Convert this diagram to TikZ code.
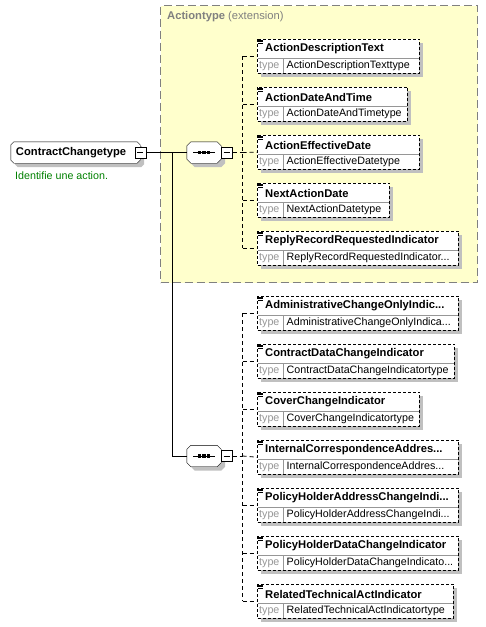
\documentclass[tikz,border=0pt]{standalone}
\usepackage{fontspec}
\setmainfont{Liberation Sans}
\usetikzlibrary{positioning}

\definecolor{extfill}{RGB}{255,255,204}
\definecolor{extdash}{RGB}{128,128,128}
\definecolor{shadegray}{RGB}{192,192,192}
\definecolor{rulegray}{RGB}{150,150,150}
\definecolor{docgreen}{RGB}{0,128,0}
\newcommand{\cutdots}{...}
% outline with cut corners round a named node
\newcommand{\chamferpath}[2]{([shift={(#2,0)}]#1.north west) -- ([shift={(-#2,0)}]#1.north east)
  -- ([shift={(0,#2)}]#1.north east) -- ([shift={(0,-#2)}]#1.south east)
  -- ([shift={(-#2,0)}]#1.south east) -- ([shift={(#2,0)}]#1.south west)
  -- ([shift={(0,-#2)}]#1.south west) -- ([shift={(0,#2)}]#1.north west) -- cycle}

\tikzset{
  txt/.style={inner sep=0, anchor=west, font=\fontsize{10.7}{12}\selectfont},
  boldtxt/.style={txt, font=\fontsize{11.2}{12}\selectfont\bfseries},
  elemspace/.style={minimum height=34, inner sep=0, anchor=north west},
  elemline/.style={dash pattern=on 3pt off 2pt, fill=white},
  shade/.style={fill=shadegray, transform canvas={xshift=4pt, yshift=-4pt}},
  rootspace/.style={minimum width=129, minimum height=21, inner sep=0},
  compspace/.style={minimum width=34, minimum height=21, inner sep=0},
  minusbox/.style={draw, fill=white, minimum size=11, inner sep=0},
  extbox/.style={draw=extdash, fill=extfill, line width=1.2pt, dash pattern=on 8pt off 4pt,
    minimum width=317, minimum height=277, inner sep=0, anchor=north west},
  solidline/.style={line width=0.8pt},
  branch/.style={line width=0.8pt, dash pattern=on 4pt off 3pt},
}

\begin{document}
\begin{tikzpicture}[x=1pt,y=-1pt]
\useasboundingbox (0,0) rectangle (486,627);

% extension area
\node[extbox] (ext) at (160,5) {};
\node[boldtxt, text=extdash] (exttitle) at ([shift={(7,12)}]ext.north west)
  {Actiontype \mdseries(extension)};

% root element
\node[rootspace] (root) at (75.5,152.5) {};
\fill[shade] \chamferpath{root}{3};
\draw[fill=white] \chamferpath{root}{3};
\node[boldtxt] (rootname) at ([shift={(5,0)}]root.west) {ContractChangetype};
\node[minusbox] (rq) at (root.east) {};
\draw ([shift={(2.5,0)}]rq.west) -- ([shift={(-2.5,0)}]rq.east);
\node[txt, text=docgreen] (rootdoc) at (15,175.5) {Identifie une action.};

% sequence compositors
\foreach \c/\y in {1/152.5,2/456} {
  \node[compspace] (c\c) at (204,\y) {};
  \fill[shade] \chamferpath{c\c}{4};
  \draw[fill=white] \chamferpath{c\c}{4};
  \draw ([shift={(-11,0)}]c\c.center) -- ([shift={(11,0)}]c\c.center);
  \foreach \d in {-4.5,0,4.5}
    \fill ([shift={(\d-1.75,-1.75)}]c\c.center) rectangle ++(3.5,3.5);
  \node[minusbox, right=0pt of c\c] (q\c) {};
  \draw ([shift={(2.5,0)}]q\c.west) -- ([shift={(-2.5,0)}]q\c.east);
}

\coordinate (fork) at ([xshift=26pt]rq.east);
\draw[solidline] (rq.east) -- (c1.west);
\draw[solidline] (fork) |- (c2.west);

% child elements
\foreach \i/\y/\w/\title/\type in {
  1/56/162/ActionDescriptionText/ActionDescriptionTexttype,
  2/104/150/ActionDateAndTime/ActionDateAndTimetype,
  3/152/162/ActionEffectiveDate/ActionEffectiveDatetype,
  4/200/132/NextActionDate/NextActionDatetype,
  5/248/201/ReplyRecordRequestedIndicator/ReplyRecordRequestedIndicator\cutdots,
  6/313/201/AdministrativeChangeOnlyIndic\cutdots/AdministrativeChangeOnlyIndica\cutdots,
  7/361/197/ContractDataChangeIndicator/ContractDataChangeIndicatortype,
  8/409/162/CoverChangeIndicator/CoverChangeIndicatortype,
  9/457/201/InternalCorrespondenceAddres\cutdots/InternalCorrespondenceAddres\cutdots,
  10/505/201/PolicyHolderAddressChangeIndi\cutdots/PolicyHolderAddressChangeIndi\cutdots,
  11/553/201/PolicyHolderDataChangeIndicator/PolicyHolderDataChangeIndicato\cutdots,
  12/601/196/RelatedTechnicalActIndicator/RelatedTechnicalActIndicatortype} {
  \node[elemspace, minimum width=\w] (e\i) at (257,\y-17) {};
  \fill[shade] (e\i.north west) rectangle (e\i.south east);
  \draw[elemline] (e\i.north west) rectangle (e\i.south east);
  \draw[rulegray] ([shift={(0.5,19)}]e\i.north west) -- ([shift={(-0.5,19)}]e\i.north east);
  \draw[rulegray] ([shift={(26,19)}]e\i.north west) -- ([shift={(26,-0.5)}]e\i.south west);
  \foreach \k in {1,2.5,4}
    \draw[line width=0.6pt] ([shift={(1,\k)}]e\i.north west) -- ++(5,0);
  \node[boldtxt] (n\i) at ([shift={(8,10)}]e\i.north west) {\title};
  \node[txt, text=rulegray] (t\i) at ([shift={(2,-7.5)}]e\i.south west) {type};
  \node[txt] (v\i) at ([shift={(29.5,-7.5)}]e\i.south west) {\type};
}

% connectors to the children
\coordinate (spine1) at ([xshift=10pt]q1.east);
\coordinate (spine2) at ([xshift=10pt]q2.east);
\draw[branch] (q1.east) -- (q1.east -| spine1);
\draw[branch] (q2.east) -- (q2.east -| spine2);
\draw[branch] (spine1 |- e1.west) -- (spine1 |- e5.west);
\draw[branch] (spine2 |- e6.west) -- (spine2 |- e12.west);
\foreach \i in {1,2,4,5}
  \draw[branch] (spine1 |- e\i.west) -- (e\i.west);
\foreach \i in {6,7,8,10,11,12}
  \draw[branch] (spine2 |- e\i.west) -- (e\i.west);
\draw[branch] (q1.east -| spine1) -- (e3.west);
\draw[branch] (q2.east -| spine2) -- (e9.west);
\end{tikzpicture}
\end{document}
